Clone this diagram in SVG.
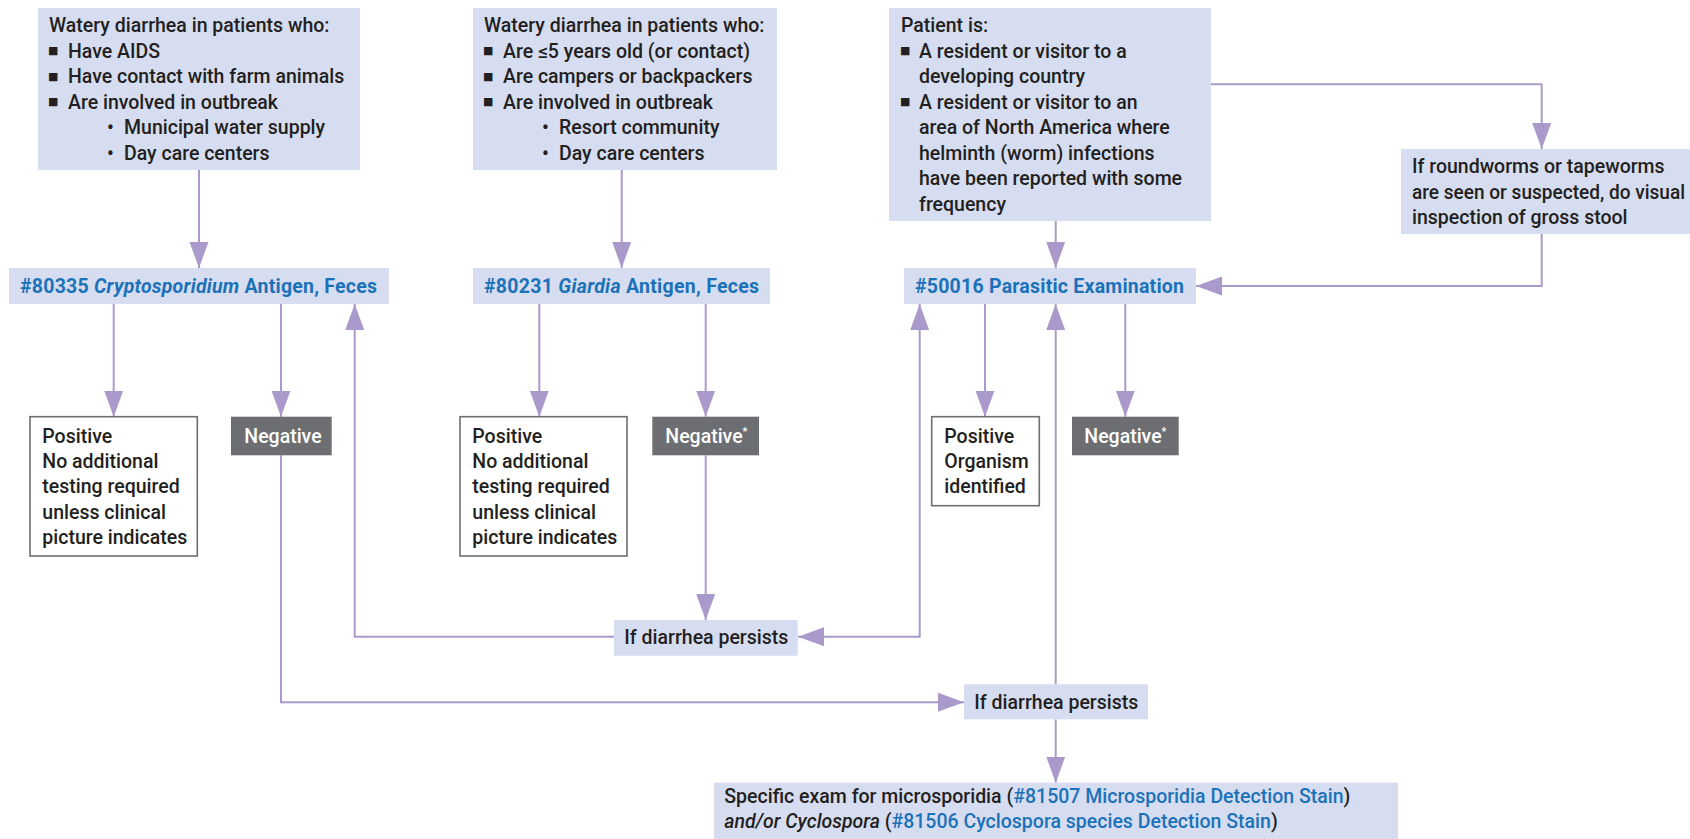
<svg xmlns="http://www.w3.org/2000/svg" width="1690" height="839" viewBox="0 0 1690 839">
<defs>
<style>
text{font-family:Roboto,"Liberation Sans",sans-serif;font-size:19.5px;font-weight:500;fill:#231f20}
.blue{fill:#1b72b9}
.bb{font-weight:700}
.it{font-style:italic}
.wt{fill:#ffffff}
.bx{fill:#d6ddf0}
.pos{fill:#ffffff;stroke:#6d6e71;stroke-width:1.6}
.neg{fill:#6d6e71}
.bul{font-family:"DejaVu Sans",sans-serif;font-size:11px}
.sup{font-size:11px;fill:#ffffff}
.cn{fill:none;stroke:#a99acb;stroke-width:2}
.ar{marker-end:url(#ah)}
.ar2{marker-start:url(#ah);marker-end:url(#ah)}
</style>
<marker id="ah" markerUnits="userSpaceOnUse" markerWidth="26" markerHeight="20" refX="26" refY="9.5" orient="auto-start-reverse" viewBox="0 0 26 19">
<path d="M0,0 L26,9.5 L0,19 z" fill="#a99acb"/>
</marker>
</defs>
<rect width="1690" height="839" fill="#ffffff"/>

<g id="connectors">
<path class="cn ar" d="M199,170 V268"/>
<path class="cn ar" d="M621.7,170 V268"/>
<path class="cn ar" d="M1055.7,221 V268"/>
<path class="cn ar" d="M1211,84.3 H1541.7 V149"/>
<path class="cn ar" d="M1541.7,234 V286 H1196"/>
<path class="cn ar" d="M113.7,304 V416.7"/>
<path class="cn ar" d="M281,304 V416.7"/>
<path class="cn ar" d="M539.3,304 V416.7"/>
<path class="cn ar" d="M705.7,304 V416.7"/>
<path class="cn ar" d="M985,304 V416.7"/>
<path class="cn ar" d="M1125.3,304 V416.7"/>
<path class="cn ar" d="M705.7,455.3 V620"/>
<path class="cn ar" d="M614,636.7 H354.7 V304"/>
<path class="cn ar2" d="M798,636.7 H919.7 V304"/>
<path class="cn ar" d="M281,455.3 V702.3 H964"/>
<path class="cn ar" d="M1055.7,684.3 V304"/>
<path class="cn ar" d="M1055.7,719.3 V782.7"/>
</g>

<g id="crypto-criteria">
<rect class="bx" x="38" y="8" width="322" height="162"/>
<text x="49" y="32">Watery diarrhea in patients who:</text>
<text class="bul" x="48" y="54">■</text><text x="68" y="57.5">Have AIDS</text>
<text class="bul" x="48" y="79.5">■</text><text x="68" y="83">Have contact with farm animals</text>
<text class="bul" x="48" y="105">■</text><text x="68" y="108.5">Are involved in outbreak</text>
<text x="107" y="134">•</text><text x="124" y="134">Municipal water supply</text>
<text x="107" y="159.5">•</text><text x="124" y="159.5">Day care centers</text>
</g>

<g id="giardia-criteria">
<rect class="bx" x="473" y="8" width="304" height="162"/>
<text x="484" y="32">Watery diarrhea in patients who:</text>
<text class="bul" x="483" y="54">■</text><text x="503" y="57.5">Are ≤5 years old (or contact)</text>
<text class="bul" x="483" y="79.5">■</text><text x="503" y="83">Are campers or backpackers</text>
<text class="bul" x="483" y="105">■</text><text x="503" y="108.5">Are involved in outbreak</text>
<text x="542" y="134">•</text><text x="559" y="134">Resort community</text>
<text x="542" y="159.5">•</text><text x="559" y="159.5">Day care centers</text>
</g>

<g id="patient-criteria">
<rect class="bx" x="889" y="8" width="322" height="213"/>
<text x="901" y="32">Patient is:</text>
<text class="bul" x="900" y="54">■</text><text x="919" y="57.5">A resident or visitor to a</text>
<text x="919" y="83">developing country</text>
<text class="bul" x="900" y="105">■</text><text x="919" y="108.5">A resident or visitor to an</text>
<text x="919" y="134">area of North America where</text>
<text x="919" y="159.5">helminth (worm) infections</text>
<text x="919" y="185">have been reported with some</text>
<text x="919" y="210.5">frequency</text>
</g>

<g id="worms">
<rect class="bx" x="1401" y="149" width="289" height="85"/>
<text x="1412" y="173">If roundworms or tapeworms</text>
<text x="1412" y="198.5" textLength="273" lengthAdjust="spacingAndGlyphs">are seen or suspected, do visual</text>
<text x="1412" y="224">inspection of gross stool</text>
</g>

<g id="crypto-test">
<rect class="bx" x="9" y="268" width="380" height="36"/>
<text class="blue bb" x="20" y="293" textLength="357">#80335 <tspan class="it">Cryptosporidium</tspan> Antigen, Feces</text>
</g>

<g id="giardia-test">
<rect class="bx" x="473" y="268" width="297" height="36"/>
<text class="blue bb" x="484" y="293" textLength="275">#80231 <tspan class="it">Giardia</tspan> Antigen, Feces</text>
</g>

<g id="parasitic-exam">
<rect class="bx" x="904" y="268" width="292" height="36"/>
<text class="blue bb" x="915" y="293" textLength="269">#50016 Parasitic Examination</text>
</g>

<g id="positive-1">
<rect class="pos" x="30" y="416.7" width="167.3" height="139.3"/>
<text x="42.3" y="442.7">Positive</text>
<text x="42.3" y="468">No additional</text>
<text x="42.3" y="493.3">testing required</text>
<text x="42.3" y="518.6">unless clinical</text>
<text x="42.3" y="544">picture indicates</text>
</g>

<g id="negative-1">
<rect class="neg" x="231" y="416.7" width="100.7" height="38.6"/>
<text class="wt" x="244.3" y="442.7">Negative</text>
</g>

<g id="positive-2">
<rect class="pos" x="460" y="416.7" width="167" height="139.3"/>
<text x="472.3" y="442.7">Positive</text>
<text x="472.3" y="468">No additional</text>
<text x="472.3" y="493.3">testing required</text>
<text x="472.3" y="518.6">unless clinical</text>
<text x="472.3" y="544">picture indicates</text>
</g>

<g id="negative-2">
<rect class="neg" x="652.3" y="416.7" width="106.7" height="38.6"/>
<text class="wt" x="665.3" y="442.7">Negative<tspan class="sup" dy="-8">*</tspan></text>
</g>

<g id="positive-3">
<rect class="pos" x="931.7" y="416.7" width="107.6" height="89"/>
<text x="944.3" y="442.7">Positive</text>
<text x="944.3" y="468">Organism</text>
<text x="944.3" y="493.3">identified</text>
</g>

<g id="negative-3">
<rect class="neg" x="1072" y="416.7" width="106.7" height="38.6"/>
<text class="wt" x="1084.3" y="442.7">Negative<tspan class="sup" dy="-8">*</tspan></text>
</g>

<g id="persists-1">
<rect class="bx" x="614" y="620" width="183.7" height="35.7"/>
<text x="624.3" y="644">If diarrhea persists</text>
</g>

<g id="persists-2">
<rect class="bx" x="964" y="684.3" width="184" height="35"/>
<text x="974.3" y="709.3">If diarrhea persists</text>
</g>

<g id="specific-exam">
<rect class="bx" x="714" y="782.7" width="684" height="56.3"/>
<text x="724.3" y="802.7">Specific exam for microsporidia (<tspan class="blue">#81507 Microsporidia Detection Stain</tspan>)</text>
<text x="724.3" y="828"><tspan class="it">and/or Cyclospora</tspan> (<tspan class="blue">#81506 Cyclospora species Detection Stain</tspan>)</text>
</g>
</svg>
